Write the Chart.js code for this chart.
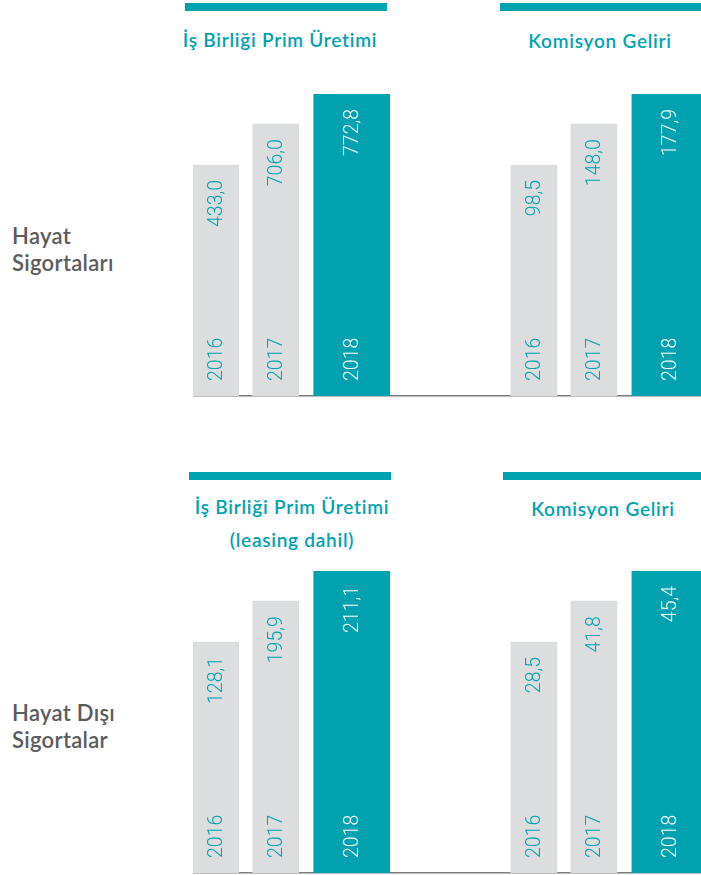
<!DOCTYPE html>
<html lang="tr">
<head>
<meta charset="utf-8">
<script src="https://cdn.jsdelivr.net/npm/chart.js@4.4.1/dist/chart.umd.min.js"></script>
<style>
  html, body { margin: 0; padding: 0; background: #fff; }
  body { width: 701px; height: 875px; overflow: hidden; position: relative; }
  .head { position: absolute; height: 8px; background: #00a2af; }
  .title { position: absolute; width: 280px; color: #00a2af; font: 600 19px Lato, sans-serif;
           letter-spacing: 0.75px; text-align: center; white-space: nowrap; }
  .row { position: absolute; left: 12px; color: #5c5c5c; font: 600 22px Lato, sans-serif; line-height: 27px;
         letter-spacing: 0.3px; }
  .plot { position: absolute; left: 193px; width: 560px; height: 310px; }
</style>
</head>
<body>

<div class="head" style="left:185px; top:3px; width:202px"></div>
<div class="head" style="left:500px; top:3px; width:205px"></div>
<div class="head" style="left:189px; top:472px; width:202px"></div>
<div class="head" style="left:503px; top:472px; width:202px"></div>

<div id="t0" class="title" style="left:140px; top:29px; line-height:22px"></div>
<div id="t1" class="title" style="left:460px; top:30px; line-height:22px"></div>
<div id="t2" class="title" style="left:152px; top:490px; line-height:33px"></div>
<div id="t3" class="title" style="left:463px; top:498px; line-height:22px"></div>

<div id="r0" class="row" style="top:222px"></div>
<div id="r1" class="row" style="top:699px"></div>

<div class="plot" style="top:90px"><canvas id="chart-hayat"></canvas></div>
<div class="plot" style="top:567px"><canvas id="chart-disi"></canvas></div>

<script>
// ---- data ---------------------------------------------------------------
const years = ['2016', '2017', '2018'];
const titlesHayat = [['İş Birliği Prim Üretimi'], ['Komisyon Geliri']];
const titlesDisi = [['İş Birliği Prim Üretimi', '(leasing dahil)'], ['Komisyon Geliri']];
const rowLabels = [['Hayat', 'Sigortaları'], ['Hayat Dışı', 'Sigortalar']];

const hayatPrim = [433.0, 706.0, 772.8];
const hayatKomisyon = [98.5, 148.0, 177.9];
const disiPrim = [128.1, 195.9, 211.1];
const disiKomisyon = [28.5, 41.8, 45.4];

// bar heights as drawn in the picture (% of the 2018 bar), same in every panel
const barLevels = [76.5, 90, 100];

// ---- style --------------------------------------------------------------
const TEAL = '#00a2af';
const GRAY = '#dcdddf';
const AXIS = '#7c7c7c';

// per-year slot / bar widths: grouped bars are spaced by barThickness,
// maxBarThickness keeps the visible width
const slotWidth = [60, 46, 76];
const barWidth = [46, 46, 76];

const fmt = v => v.toFixed(1).replace('.', ',');

// rotated labels inside every bar: value at the top, year at the bottom
const barText = {
  id: 'barText',
  afterDatasetsDraw(chart) {
    const ctx = chart.ctx;
    const values = chart.options.plugins.barText.values;
    chart.data.datasets.forEach((ds, di) => {
      const meta = chart.getDatasetMeta(di);
      meta.data.forEach((bar, gi) => {
        ctx.save();
        ctx.fillStyle = di === 2 ? '#ffffff' : TEAL;
        ctx.font = '300 19.5px Roboto';
        ctx.textBaseline = 'middle';
        ctx.translate(bar.x, bar.y + 15);
        ctx.rotate(-Math.PI / 2);
        ctx.textAlign = 'right';
        ctx.fillText(fmt(values[gi][di]), 0, 1);
        ctx.restore();

        ctx.save();
        ctx.fillStyle = di === 2 ? '#ffffff' : TEAL;
        ctx.font = '300 19.5px Roboto';
        ctx.textBaseline = 'middle';
        ctx.translate(bar.x, bar.base - 15);
        ctx.rotate(-Math.PI / 2);
        ctx.textAlign = 'left';
        ctx.fillText(ds.label, 0, 1);
        ctx.restore();
      });
    });
  }
};

function panelRow(canvasId, titles, values) {
  const datasets = years.map((y, i) => ({
    label: y,
    data: titles.map((t, gi) => ({ x: gi, y: barLevels[i] })),
    backgroundColor: i === 2 ? TEAL : GRAY,
    barThickness: slotWidth[i],
    maxBarThickness: barWidth[i],
  }));
  new Chart(document.getElementById(canvasId), {
    type: 'bar',
    data: { datasets },
    plugins: [barText],
    options: {
      responsive: true,
      maintainAspectRatio: false,
      animation: false,
      layout: { padding: { top: 4, bottom: 4, left: 0, right: 0 } },
      plugins: {
        legend: { display: false },
        tooltip: { enabled: false },
        barText: { values },
      },
      scales: {
        x: {
          type: 'linear', min: -0.26, max: 1.5, offset: false,
          ticks: { display: false },
          grid: { display: false, drawTicks: false },
          border: { display: true, color: AXIS, width: 1.5 },
        },
        y: { display: false, min: 0, max: 100 },
      },
    },
  });
}

const setLines = (id, lines) => { document.getElementById(id).innerHTML = lines.join('<br>'); };
setLines('t0', titlesHayat[0]);
setLines('t1', titlesHayat[1]);
setLines('t2', titlesDisi[0]);
setLines('t3', titlesDisi[1]);
setLines('r0', rowLabels[0]);
setLines('r1', rowLabels[1]);

panelRow('chart-hayat', titlesHayat, [hayatPrim, hayatKomisyon]);
panelRow('chart-disi', titlesDisi, [disiPrim, disiKomisyon]);
</script>
</body>
</html>
